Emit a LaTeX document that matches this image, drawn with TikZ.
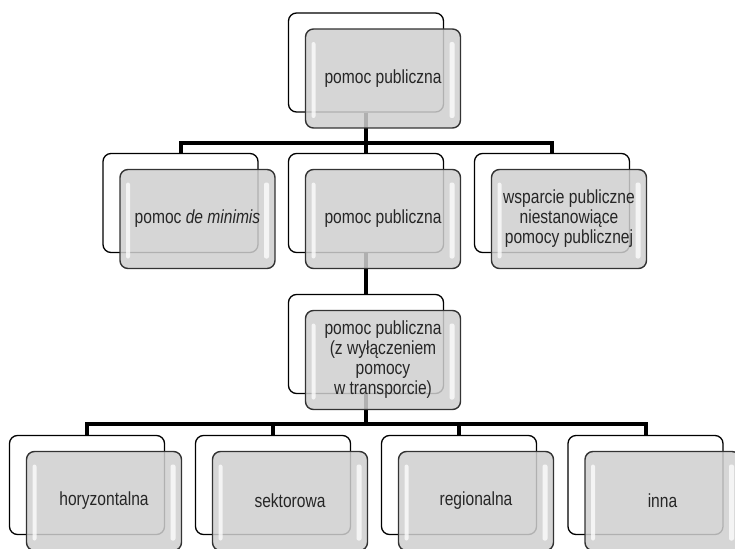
\documentclass[tikz,border=0pt]{standalone}
\usepackage{fontspec}
\setmainfont{Liberation Sans}[FakeStretch=0.82]
\usepackage{tikz}

\begin{document}
\begin{tikzpicture}[x=1pt,y=-1pt,
    back/.style={draw=black, line width=1.3pt, fill=white, rounded corners=8pt,
      minimum width=155pt, minimum height=99pt, inner sep=0pt},
    front/.style={draw=black!80, line width=1.4pt, fill=black!19, fill opacity=0.85,
      text opacity=1, rounded corners=8pt, minimum width=155pt, minimum height=99pt,
      inner sep=2pt, align=center, text=black!85, font=\fontsize{19}{20}\selectfont,
      path picture={
        \fill[white, opacity=0.75, rounded corners=2pt]
          ([shift={(6,13)}]path picture bounding box.north west) rectangle
          ([shift={(10,-10)}]path picture bounding box.south west);
        \fill[white, opacity=0.75, rounded corners=2pt]
          ([shift={(-11,13)}]path picture bounding box.north east) rectangle
          ([shift={(-6,-10)}]path picture bounding box.south east);
      }},
    conn/.style={line width=4pt}]
   \useasboundingbox (0,0) rectangle (735,548);
   \clip (0,0) rectangle (735,548);

   % back boxes
   \node[back] (bTop) at (366,62.5) {};
   \node[back] (bA) at (180.5,203) {};
   \node[back] (bB) at (366,203) {};
   \node[back] (bC) at (552,203) {};
   \node[back] (bD) at (366,344) {};
   \node[back] (bE) at (87,485) {};
   \node[back] (bF) at (273,485) {};
   \node[back] (bG) at (459,485) {};
   \node[back] (bH) at (645.5,485) {};

   % connectors
   \draw[conn] (bTop.south) -- ++(0,30) -| (bA.north);
   \draw[conn] (bTop.south) -- ++(0,30) -| (bC.north);
   \draw[conn] (bTop.south) -- (bB.north);
   \draw[conn] (bB.south) -- (bD.north);
   \draw[conn] (bD.south) -- ++(0,30) -| (bE.north);
   \draw[conn] (bD.south) -- ++(0,30) -| (bH.north);
   \draw[conn] (bD.south) -- ++(0,30) -| (bF.north);
   \draw[conn] (bD.south) -- ++(0,30) -| (bG.north);

   % front boxes
   \node[front] (fTop) at ([shift={(17,16)}]bTop.center) {pomoc publiczna};
   \node[front] (fA) at ([shift={(17,16)}]bA.center) {pomoc \textit{de minimis}};
   \node[front] (fB) at ([shift={(17,16)}]bB.center) {pomoc publiczna};
   \node[front] (fC) at ([shift={(17,16)}]bC.center) {wsparcie publiczne\\niestanowiące\\pomocy publicznej};
   \node[front] (fD) at ([shift={(17,16)}]bD.center) {pomoc publiczna\\(z wyłączeniem\\pomocy\\w transporcie)};
   \node[front] (fE) at ([shift={(17,16)}]bE.center) {horyzontalna};
   \node[front] (fF) at ([shift={(17,16)}]bF.center) {sektorowa};
   \node[front] (fG) at ([shift={(17,16)}]bG.center) {regionalna};
   \node[front] (fH) at ([shift={(17,16)}]bH.center) {inna};
\end{tikzpicture}
\end{document}
